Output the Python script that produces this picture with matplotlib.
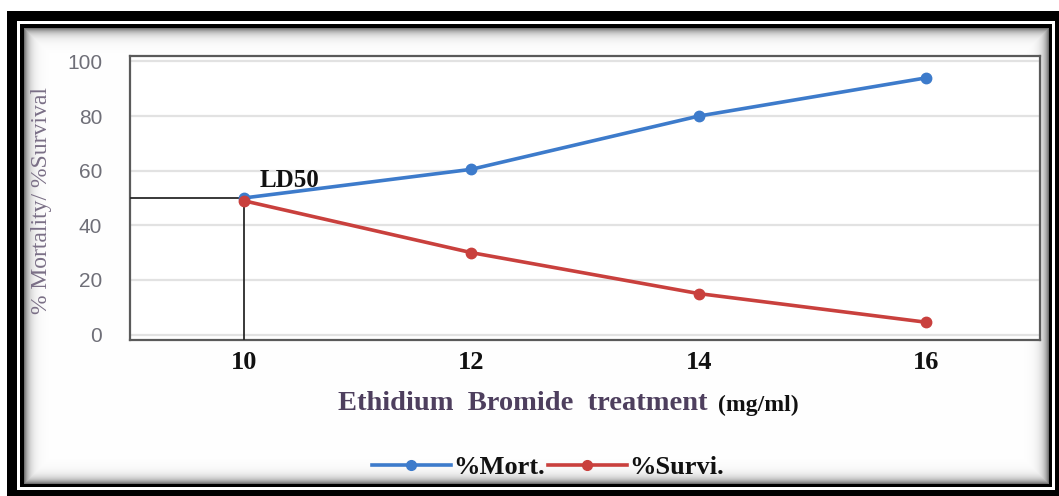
import numpy as np
import matplotlib
matplotlib.use("Agg")
import matplotlib.pyplot as plt
from matplotlib.patches import Rectangle
from matplotlib.lines import Line2D

# ---- data ----
doses = [10, 12, 14, 16]
dose_labels = ["10", "12", "14", "16"]
mortality = [50, 60.5, 80, 94]
survival = [49, 30, 15, 4.5]
ld50_dose = 10
ld50_value = 50
y_ticks = [0, 20, 40, 60, 80, 100]

W, H = 1059, 496
fig = plt.figure(figsize=(W / 100, H / 100), dpi=100)

# ---- background with frame & inner shadow ----
bg = fig.add_axes([0, 0, 1, 1])
bg.set_xlim(0, W)
bg.set_ylim(H, 0)
bg.axis("off")
bg.add_patch(Rectangle((7, 11), W - 7 + 5, H - 11 + 5, facecolor="black", edgecolor="none"))
bg.add_patch(Rectangle((17, 21), 1055 - 17, 490 - 21, facecolor="white", edgecolor="none"))
bg.add_patch(Rectangle((20, 24), 1052 - 20, 487 - 24, facecolor="black", edgecolor="none"))
x0, y0, x1, y1 = 24, 28, 1049, 484
nx, ny = x1 - x0, y1 - y0
xx = np.arange(nx)[None, :]
yy = np.arange(ny)[:, None]
d = np.minimum(np.minimum(xx, nx - 1 - xx), np.minimum(yy, ny - 1 - yy)).astype(float)
shade = 1 - 0.55 * np.exp(-d / 5.0)
img = np.dstack([shade, shade, shade])
bg.imshow(img, extent=(x0, x1, y1, y0), interpolation="bilinear", zorder=1, aspect="auto")

# ---- main axes ----
ax = fig.add_axes([130 / W, 1 - 340 / H, (1040 - 130) / W, (340 - 56) / H])
ax.set_xlim(9, 17)
ax.set_ylim(-2, 102)
ax.set_facecolor("white")

ax.set_yticks(y_ticks)
ax.yaxis.grid(True, color="#e2e2e2", linewidth=1.6)
ax.set_axisbelow(True)
for s in ax.spines.values():
    s.set_color("#5a5a5a")
    s.set_linewidth(1.6)

blue = "#3d7bcb"
red = "#c9403d"
ax.plot(doses, mortality, color=blue, lw=2.6, marker="o", ms=7.5, zorder=4)
ax.plot(doses, survival, color=red, lw=2.6, marker="o", ms=7.5, zorder=4)

# LD50 guide lines
ax.plot([9, ld50_dose], [ld50_value, ld50_value], color="#2a2a2a", lw=1.3, zorder=3)
ax.plot([ld50_dose, ld50_dose], [-2, ld50_value], color="#2a2a2a", lw=1.3, zorder=3)
ax.text(ld50_dose + 0.14, ld50_value + 2.2, "LD50", fontfamily="Liberation Serif",
        fontweight="bold", fontsize=18, color="#111111", ha="left", va="bottom", zorder=5)

ax.set_xticks(doses)
ax.set_xticklabels(dose_labels, fontfamily="Liberation Serif", fontweight="bold",
                   fontsize=19, color="#111111")
ax.tick_params(axis="x", length=0, pad=8)
ax.tick_params(axis="y", length=0, pad=20)
for lab in ax.get_yticklabels():
    lab.set_fontfamily("Liberation Sans")
    lab.set_fontsize(15)
    lab.set_color("#6f6f78")

# y label
fig.text(42 / W, 1 - 201 / H, "% Mortality/ %Survival", rotation=90, ha="center", va="center",
         fontfamily="Liberation Serif", fontsize=17, color="#7a6f86")

# x label
fig.text(338 / W, 1 - 403 / H, "Ethidium  Bromide  treatment", ha="left", va="center",
         fontfamily="Liberation Serif", fontweight="bold", fontsize=20.5, color="#4e3f5e")
fig.text(718 / W, 1 - 405 / H, "(mg/ml)", ha="left", va="center",
         fontfamily="Liberation Serif", fontweight="bold", fontsize=17, color="#111111")

# legend
handles = [Line2D([], [], color=blue, lw=2.6, marker="o", ms=7),
           Line2D([], [], color=red, lw=2.6, marker="o", ms=7)]
leg = fig.legend(handles, ["%Mort.", "%Survi."], loc="center", bbox_to_anchor=(548 / W, 1 - 467 / H),
                 ncol=2, frameon=False, handlelength=3.0, handletextpad=0.1, columnspacing=0.1,
                 prop={"family": ["Liberation Serif"], "weight": "bold", "size": 19})
for t in leg.get_texts():
    t.set_color("#111111")
    t.set_fontfamily("Liberation Serif")
    t.set_fontweight("bold")

fig.savefig("out.png", dpi=100)
